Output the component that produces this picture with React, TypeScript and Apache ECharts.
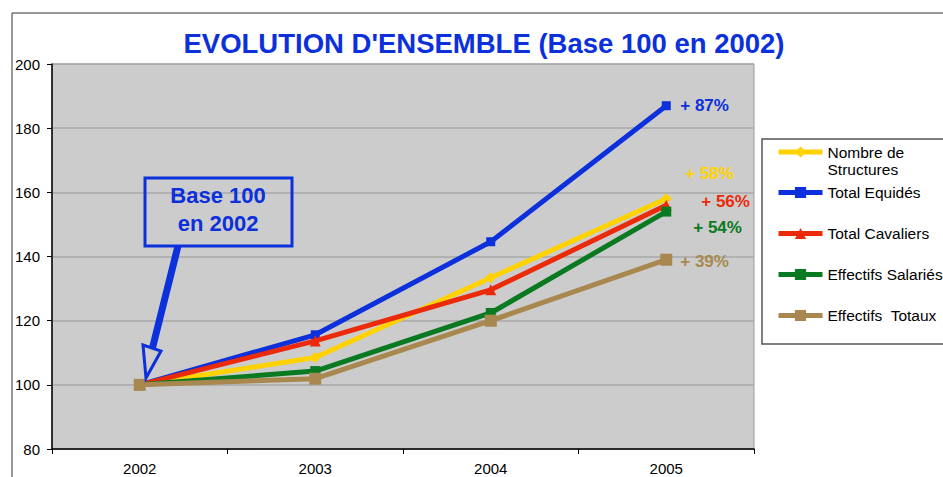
import React, { useEffect, useRef } from 'react';
import * as echarts from 'echarts';

const years = ['2002', '2003', '2004', '2005'];
const seriesNames = ['Nombre de Structures', 'Total Equidés', 'Total Cavaliers', 'Effectifs Salariés', 'Effectifs  Totaux'];
const structures = [100, 108.5, 133.4, 158];
const equides = [100, 115.6, 144.6, 187];
const cavaliers = [100, 113.7, 129.6, 156];
const salaries = [100, 104.3, 122.4, 154];
const totaux = [100, 101.9, 120, 139];
const growthLabels = ['+ 58%', '+ 87%', '+ 56%', '+ 54%', '+ 39%'];
const yTicks = { min: 80, max: 200, interval: 20 };

const FONT = '"Liberation Sans", Arial, sans-serif';
const BLUE = '#0b30dc';
const colors = ['#ffd200', BLUE, '#ea2a08', '#0a7a22', '#a8884e'];
const symbols = ['diamond', 'rect', 'triangle', 'rect', 'rect'];
const symbolSizes = [11, 9, 11, 10, 12];
const labelOffsets = [[19, -25], [14, 0], [35, -4], [27, 16], [14, 2]];

const values = [structures, equides, cavaliers, salaries, totaux];

function buildSeries() {
  return seriesNames.map((name, s) => {
    const vals = values[s];
    const last = vals.length - 1;
    return {
      name,
      type: 'line',
      symbol: symbols[s],
      symbolSize: symbolSizes[s],
      color: colors[s],
      lineStyle: { width: 5, color: colors[s] },
      itemStyle: { color: colors[s] },
      z: 3 + s,
      data: vals.map((v, i) =>
        i === last
          ? {
              value: v,
              label: {
                show: true,
                position: 'inside',
                align: 'left',
                verticalAlign: 'middle',
                offset: labelOffsets[s],
                formatter: growthLabels[s],
                color: colors[s],
                fontFamily: FONT,
                fontWeight: 'bold',
                fontSize: 17,
              },
            }
          : v
      ),
    };
  });
}

export default function App() {
  const ref = useRef<HTMLDivElement>(null);
  useEffect(() => {
    const chart = echarts.init(ref.current as HTMLDivElement, null, { renderer: 'svg' });
    const legendText = { fontFamily: FONT, fontSize: 15.5, color: '#000', lineHeight: 15 };
    const option: any = {
      animation: false,
      backgroundColor: '#ffffff',
      title: {
        text: "EVOLUTION D'ENSEMBLE (Base 100 en 2002)",
        left: 484,
        top: 29,
        textAlign: 'center',
        padding: 0,
        textStyle: { color: BLUE, fontFamily: FONT, fontWeight: 'bold', fontSize: 27.5 },
      },
      grid: {
        left: 52,
        top: 64,
        right: 189,
        bottom: 28,
        show: true,
        backgroundColor: '#cccccc',
        borderColor: '#9a9a9a',
        borderWidth: 1,
      },
      legend: [
        {
          data: [seriesNames[0]],
          orient: 'vertical',
          left: 776,
          top: 126.5,
          padding: 0,
          itemWidth: 44,
          itemHeight: 14,
          lineStyle: { width: 5 },
          formatter: () => '\nNombre de\nStructures',
          textStyle: { ...legendText, lineHeight: 17 },
        },
        {
          data: seriesNames.slice(1),
          orient: 'vertical',
          left: 776,
          top: 184.5,
          padding: 0,
          itemGap: 25,
          itemWidth: 44,
          itemHeight: 14,
          lineStyle: { width: 5 },
          textStyle: legendText,
        },
      ],
      xAxis: {
        type: 'category',
        data: years,
        boundaryGap: true,
        axisLine: { lineStyle: { color: '#000', width: 1.5 } },
        axisTick: { show: true, length: 5, lineStyle: { color: '#000' } },
        axisLabel: { color: '#000', fontFamily: FONT, fontSize: 15, margin: 12 },
        splitLine: { show: false },
      },
      yAxis: {
        type: 'value',
        min: yTicks.min,
        max: yTicks.max,
        interval: yTicks.interval,
        axisLine: { show: true, lineStyle: { color: '#000', width: 1.5 } },
        axisTick: { show: true, length: 5, lineStyle: { color: '#000' } },
        axisLabel: { color: '#000', fontFamily: FONT, fontSize: 15, margin: 12 },
        splitLine: { show: true, lineStyle: { color: '#a8a8a8', width: 1.5 } },
      },
      graphic: [
        {
          type: 'rect',
          z: 100,
          shape: { x: 12, y: 13, width: 1200, height: 1000 },
          style: { fill: 'none', stroke: '#333', lineWidth: 1 },
          silent: true,
        },
        {
          type: 'rect',
          z: 100,
          shape: { x: 762, y: 139, width: 400, height: 205 },
          style: { fill: 'none', stroke: '#555', lineWidth: 1.5 },
          silent: true,
        },
        {
          type: 'rect',
          z: 100,
          shape: { x: 145, y: 178, width: 147, height: 68 },
          style: { fill: 'none', stroke: BLUE, lineWidth: 3 },
          silent: true,
        },
        {
          type: 'text',
          z: 100,
          x: 218,
          y: 209,
          style: {
            text: 'Base 100\nen 2002',
            fill: BLUE,
            font: 'bold 22px ' + FONT,
            textAlign: 'center',
            textVerticalAlign: 'middle',
            lineHeight: 28,
          },
          silent: true,
        },
        {
          type: 'line',
          z: 100,
          shape: { x1: 178, y1: 246, x2: 152, y2: 350 },
          style: { stroke: BLUE, lineWidth: 7 },
          silent: true,
        },
        {
          type: 'polygon',
          z: 101,
          shape: { points: [[143, 345], [161, 351], [146, 378]] },
          style: { fill: '#cccccc', stroke: BLUE, lineWidth: 3, lineJoin: 'miter' },
          silent: true,
        },
      ],
      series: buildSeries(),
    };
    chart.setOption(option);
    return () => chart.dispose();
  }, []);
  return (
    <div
      ref={ref}
      style={{ position: 'fixed', left: 0, top: 0, width: 943, height: 477, background: '#fff' }}
    />
  );
}
